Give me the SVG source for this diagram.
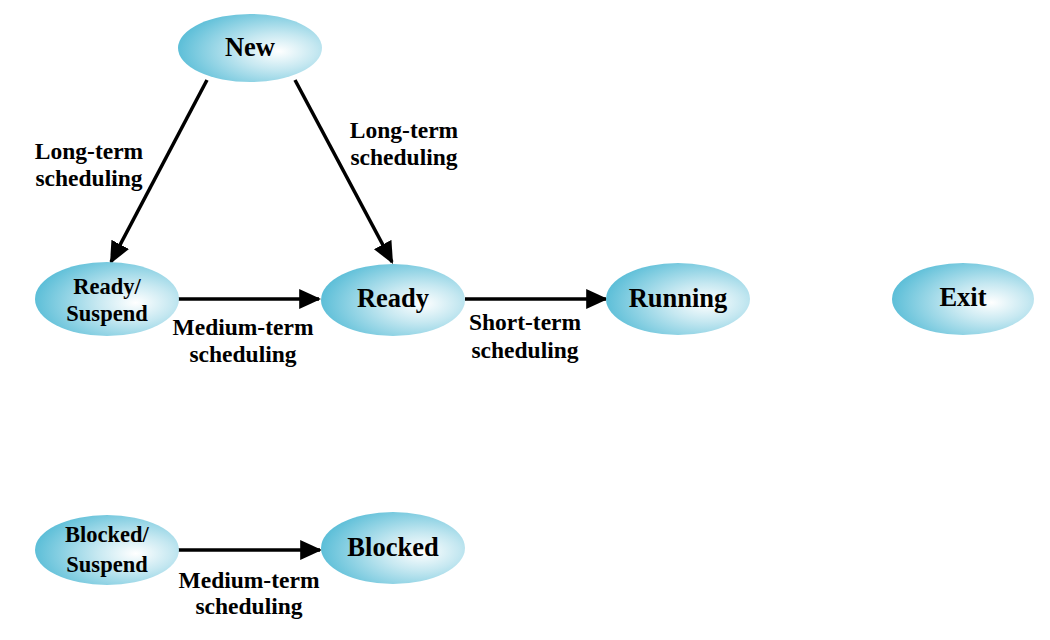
<svg xmlns="http://www.w3.org/2000/svg" width="1050" height="640" viewBox="0 0 1050 640">
<defs>
<radialGradient id="g" cx="0.68" cy="0.55" r="0.75" fx="0.7" fy="0.55">
<stop offset="0" stop-color="#ffffff"/>
<stop offset="0.35" stop-color="#c6e8f1"/>
<stop offset="1" stop-color="#4cb8d4"/>
</radialGradient>
<marker id="ah" markerUnits="userSpaceOnUse" markerWidth="22" markerHeight="22" viewBox="0 0 20 20" refX="18" refY="10" orient="auto">
<path d="M0,1 L20,10 L0,19 Z" fill="#000"/>
</marker>
<style>
.n{fill:url(#g);stroke:none}
.t{font-family:"Liberation Serif","Times New Roman",serif;font-weight:bold;fill:#000;text-anchor:middle}
.nt{font-size:26.5px}
.nt2{font-size:22.5px}
.lt{font-size:23.5px}
.c{stroke:#000;stroke-width:3.5;fill:none;marker-end:url(#ah)}
</style>
</defs>
<rect width="1050" height="640" fill="#fff"/>
<g id="connectors">
<line class="c" x1="207" y1="80" x2="111" y2="262"/>
<line class="c" x1="295" y1="80" x2="392" y2="262"/>
<line class="c" x1="178" y1="299" x2="319" y2="299"/>
<line class="c" x1="465" y1="299" x2="606" y2="299"/>
<line class="c" x1="178" y1="550" x2="320" y2="550"/>
<text class="t lt" x="89" y="159">Long-term</text>
<text class="t lt" x="89" y="186">scheduling</text>
<text class="t lt" x="404" y="138">Long-term</text>
<text class="t lt" x="404" y="165">scheduling</text>
<text class="t lt" x="243" y="335">Medium-term</text>
<text class="t lt" x="243" y="362">scheduling</text>
<text class="t lt" x="525" y="330">Short-term</text>
<text class="t lt" x="525" y="358">scheduling</text>
<text class="t lt" x="249" y="588">Medium-term</text>
<text class="t lt" x="249" y="614">scheduling</text>
</g>
<g id="new">
<ellipse class="n" cx="250" cy="48" rx="72" ry="34"/>
<text class="t nt" x="250" y="56">New</text>
</g>
<g id="ready-suspend">
<ellipse class="n" cx="107" cy="299" rx="72" ry="37"/>
<text class="t nt2" x="107" y="294">Ready/</text>
<text class="t nt2" x="107" y="321">Suspend</text>
</g>
<g id="ready">
<ellipse class="n" cx="393" cy="300" rx="72" ry="36"/>
<text class="t nt" x="393" y="307">Ready</text>
</g>
<g id="running">
<ellipse class="n" cx="678" cy="299" rx="72" ry="36"/>
<text class="t nt" x="678" y="307">Running</text>
</g>
<g id="exit">
<ellipse class="n" cx="963" cy="299" rx="71" ry="36"/>
<text class="t nt" x="963" y="306">Exit</text>
</g>
<g id="blocked-suspend">
<ellipse class="n" cx="107" cy="550" rx="72" ry="35"/>
<text class="t nt2" x="107" y="542">Blocked/</text>
<text class="t nt2" x="107" y="572">Suspend</text>
</g>
<g id="blocked">
<ellipse class="n" cx="393" cy="548" rx="72" ry="36"/>
<text class="t nt" x="393" y="556">Blocked</text>
</g>
</svg>
